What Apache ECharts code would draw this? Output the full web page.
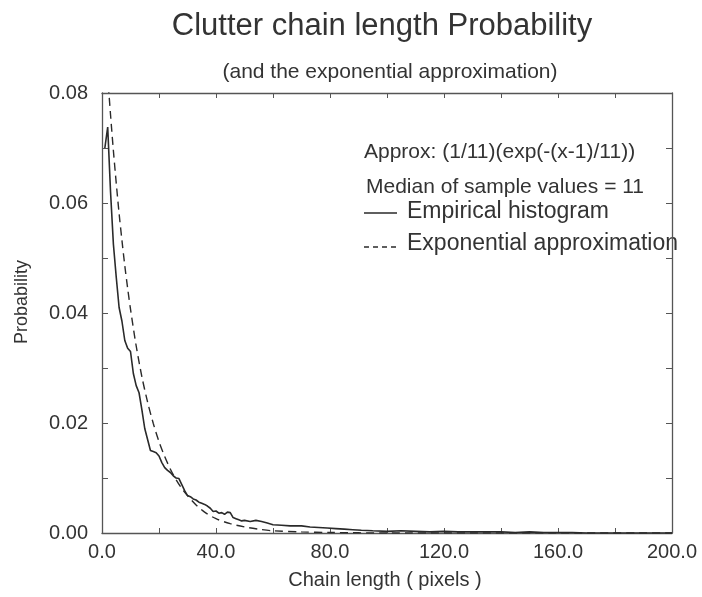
<!DOCTYPE html>
<html>
<head>
<meta charset="utf-8">
<script src="https://cdn.jsdelivr.net/npm/echarts@6/dist/echarts.min.js"></script>
<style>
html,body{margin:0;padding:0;background:#fff;}
#chart{width:702px;height:597px;}
</style>
</head>
<body>
<div id="chart"></div>
<script>
// Empirical histogram (chain length, probability)
var empX = [1,2,3,4,5,6,7,8,9,10,11,12,13,14,15,16,17,18,19,20,21,22,23,24,25,26,27,28,29,30,
  31,32,33,34,35,36,37,38,39,40,41,42,43,44,45,46,47,48,49,50,52,54,56,58,60,63,66,70,73,76,
  79,82,85,88,91,95,100,105,110,115,120,125,130,135,140,145,150,155,160,165,170,180,190,200];
var empY = [0.0700,0.0738,0.0620,0.0525,0.0465,0.0410,0.0385,0.0350,0.0336,0.0330,0.0290,0.0268,0.0255,0.0224,0.0190,0.0170,0.0150,0.0148,0.0146,0.0140,
  0.0128,0.0119,0.0114,0.0110,0.0104,0.0100,0.0099,0.0088,0.0077,0.0068,
  0.0066,0.0062,0.0060,0.0056,0.0054,0.0052,0.0049,0.0045,0.0039,0.0040,0.0036,0.0037,0.0034,0.0038,0.0037,0.0028,0.0026,0.0024,0.0022,0.0023,
  0.0021,0.0023,0.0021,0.0018,0.0015,0.0014,0.0013,0.0013,0.0011,0.0010,
  0.0009,0.0008,0.0007,0.0006,0.0005,0.0004,0.0003,0.0004,0.0003,0.0002,0.0003,0.0002,0.0002,0.0002,0.0002,0.0001,0.0002,0.0001,0.0001,0.0001,0.0000,0.0000,0.0000,0.0000];
// Exponential approximation
var expX = [1,2,3,4,5,6,7,8,9,10,12,14,16,18,20,22,24,26,28,30,33,36,40,45,50,55,60,70,80,100,200];
var expY = [0.0909,0.0831,0.0760,0.0695,0.0636,0.0581,0.0532,0.0486,0.0445,0.0407,0.0340,0.0284,0.0238,0.0199,0.0166,0.0139,0.0116,0.0097,0.0081,0.0068,
  0.0051,0.0038,0.0026,0.0017,0.0011,0.0007,0.0004,0.0002,0.0001,0.0000,0.0000];
var xTicks = [0,40,80,120,160,200];
var yTicks = [0,0.02,0.04,0.06,0.08];

var titleText = 'Clutter chain length Probability';
var subtitleText = '(and the exponential approximation)';
var approxText = 'Approx: (1/11)(exp(-(x-1)/11))';
var medianText = 'Median of sample values = 11';
var legendNames = ['Empirical histogram', 'Exponential approximation'];
var xName = 'Chain length ( pixels )';
var yName = 'Probability';

function pairs(xs, ys){ return xs.map(function(x,i){ return [x, ys[i]]; }); }

var FONT = 'Liberation Sans, Arial, Helvetica, sans-serif';
var TXT = '#333';
var AX = '#555';
var LINE = '#2a2a2a';

var chart = echarts.init(document.getElementById('chart'), null, {renderer:'canvas'});
function axLine(){ return {show:true, onZero:false, lineStyle:{color:AX, width:1.3}}; }
chart.setOption({
  backgroundColor:'#fff',
  animation:false,
  grid:{left:102, right:30, top:93, bottom:64},
  xAxis:[{
    type:'value', min:0, max:200, interval:20, position:'bottom',
    axisLine:axLine(),
    axisTick:{show:true, inside:true, length:5, lineStyle:{color:AX}},
    splitLine:{show:false},
    axisLabel:{color:TXT, fontFamily:FONT, fontSize:20, margin:9,
      formatter:function(v){ return xTicks.indexOf(v) >= 0 ? v.toFixed(1) : ''; }}
  },{
    type:'value', min:0, max:200, interval:20, position:'top',
    axisLine:axLine(),
    axisTick:{show:true, inside:true, length:5, lineStyle:{color:AX}},
    axisLabel:{show:false}, splitLine:{show:false}
  }],
  yAxis:[{
    type:'value', min:0, max:0.08, interval:0.01, position:'left',
    axisLine:axLine(),
    axisTick:{show:true, inside:true, length:6, lineStyle:{color:AX}},
    splitLine:{show:false},
    axisLabel:{color:TXT, fontFamily:FONT, fontSize:20, margin:14,
      formatter:function(v){
        for (var i=0;i<yTicks.length;i++){ if (Math.abs(v-yTicks[i])<1e-9) return v.toFixed(2); }
        return '';
      }}
  },{
    type:'value', min:0, max:0.08, interval:0.01, position:'right',
    axisLine:axLine(),
    axisTick:{show:true, inside:true, length:6, lineStyle:{color:AX}},
    axisLabel:{show:false}, splitLine:{show:false}
  }],
  series:[{
    name:legendNames[0], type:'line', data:pairs(empX, empY),
    showSymbol:false, symbol:'none', clip:true,
    lineStyle:{color:LINE, width:1.6, type:'solid'}
  },{
    name:legendNames[1], type:'line', data:pairs(expX, expY),
    showSymbol:false, symbol:'none', clip:true, smooth:0.3,
    lineStyle:{color:LINE, width:1.4, type:[8,5]}
  }],
  graphic:[
    {type:'text', x:382, y:26, style:{text:titleText, fill:TXT, font:'31px ' + FONT, textAlign:'center', textVerticalAlign:'middle'}},
    {type:'text', x:390, y:72, style:{text:subtitleText, fill:TXT, font:'21px ' + FONT, textAlign:'center', textVerticalAlign:'middle'}},
    {type:'text', x:364, y:152, style:{text:approxText, fill:TXT, font:'21px ' + FONT, textVerticalAlign:'middle'}},
    {type:'text', x:366, y:187, style:{text:medianText, fill:TXT, font:'21px ' + FONT, textVerticalAlign:'middle'}},
    {type:'line', shape:{x1:364, y1:213, x2:397, y2:213}, style:{stroke:LINE, lineWidth:1.4}},
    {type:'text', x:407, y:212, style:{text:legendNames[0], fill:TXT, font:'23px ' + FONT, textVerticalAlign:'middle'}},
    {type:'line', shape:{x1:364, y1:247, x2:397, y2:247}, style:{stroke:LINE, lineWidth:1.4, lineDash:[5,4]}},
    {type:'text', x:407, y:244, style:{text:legendNames[1], fill:TXT, font:'23px ' + FONT, textVerticalAlign:'middle'}},
    {type:'text', x:385, y:580, style:{text:xName, fill:TXT, font:'20px ' + FONT, textAlign:'center', textVerticalAlign:'middle'}},
    {type:'text', x:22, y:302, rotation:Math.PI/2, style:{text:yName, fill:TXT, font:'18px ' + FONT, textAlign:'center', textVerticalAlign:'middle'}}
  ]
});
</script>
</body>
</html>
